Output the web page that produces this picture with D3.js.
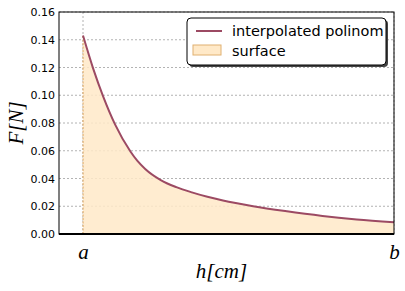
<!DOCTYPE html>
<html lang="en">
<head>
<meta charset="UTF-8">
<title>Interpolated polinom</title>
<script src="https://d3js.org/d3.v7.min.js"></script>
<style>
  body { margin: 0; background: #fff; }
  svg { display: block; }
  .grid line { stroke: #a0a0a0; stroke-dasharray: 2,2; stroke-width: 0.8; }
</style>
</head>
<body>
<div id="chart"></div>
<script>
// h position between a (0) and b (10), force F in newtons
const hValues = [0, 0.33, 0.65, 1.03, 1.53, 1.75, 2.0, 2.5, 3.0, 3.5, 4.0, 4.5, 5.47, 6.5, 7.7, 8.8, 10];
const fValues = [0.143, 0.119, 0.099, 0.079, 0.0593, 0.0527, 0.0469, 0.0389, 0.0338, 0.0300, 0.0268, 0.0241, 0.0200, 0.0165, 0.0130, 0.0105, 0.0084];
const xTicks = [0, 10];
const xTickLabels = ["a", "b"];
const yTicks = [0, 0.02, 0.04, 0.06, 0.08, 0.10, 0.12, 0.14, 0.16];

const mathFont = "'Liberation Serif', 'Times New Roman', serif";

const width = 405, height = 291;
const margin = { top: 12, right: 11, bottom: 57, left: 59 };
const iw = width - margin.left - margin.right;
const ih = height - margin.top - margin.bottom;

const svg = d3.select("#chart").append("svg")
    .attr("width", width)
    .attr("height", height);

const g = svg.append("g").attr("transform", `translate(${margin.left},${margin.top})`);

const x = d3.scaleLinear().domain([-0.772, 10]).range([0, iw]);
const y = d3.scaleLinear().domain([0, 0.16]).range([ih, 0]);

const data = hValues.map((h, i) => ({ h: h, f: fValues[i] }));

// grid
g.append("g").attr("class", "grid")
    .selectAll("line").data(yTicks).join("line")
    .attr("x1", 0).attr("x2", iw)
    .attr("y1", d => y(d)).attr("y2", d => y(d));
g.append("g").attr("class", "grid")
    .selectAll("line").data(xTicks).join("line")
    .attr("x1", d => x(d)).attr("x2", d => x(d))
    .attr("y1", 0).attr("y2", ih);

// filled surface under the curve
const area = d3.area()
    .x(d => x(d.h)).y0(y(0)).y1(d => y(d.f))
    .curve(d3.curveMonotoneX);
g.append("path").datum(data)
    .attr("d", area)
    .attr("fill", "#ffe9c8")
    .attr("fill-opacity", 0.85);
// left edge of the surface
g.append("line")
    .attr("x1", x(hValues[0])).attr("x2", x(hValues[0]))
    .attr("y1", y(0)).attr("y2", y(fValues[0]))
    .attr("stroke", "#d9a15a")
    .attr("stroke-width", 1)
    .attr("stroke-dasharray", "2,1.5");

// curve
const line = d3.line()
    .x(d => x(d.h)).y(d => y(d.f))
    .curve(d3.curveMonotoneX);
g.append("path").datum(data)
    .attr("d", line)
    .attr("fill", "none")
    .attr("stroke", "#9c4a63")
    .attr("stroke-width", 2);

// axes
const yAxis = g.append("g")
    .call(d3.axisLeft(y).tickValues(yTicks).tickFormat(d3.format(".2f")).tickSize(0).tickPadding(4));
yAxis.select(".domain").remove();
yAxis.selectAll(".tick text")
    .style("font-family", "'DejaVu Sans', sans-serif")
    .style("font-size", "11px")
    .attr("fill", "#000");

const xAxis = g.append("g").attr("transform", `translate(0,${ih})`)
    .call(d3.axisBottom(x).tickValues(xTicks).tickFormat((d, i) => xTickLabels[i]).tickSize(0).tickPadding(8));
xAxis.select(".domain").remove();
xAxis.selectAll(".tick text")
    .style("font-family", mathFont)
    .style("font-style", "italic")
    .style("font-size", "21px")
    .attr("fill", "#000")
    .attr("dy", "0.8em");

// frame
g.append("rect")
    .attr("width", iw).attr("height", ih)
    .attr("fill", "none").attr("stroke", "#000").attr("stroke-width", 1);
g.append("line")
    .attr("x1", 0).attr("x2", iw).attr("y1", ih).attr("y2", ih)
    .attr("stroke", "#000").attr("stroke-width", 2);

// axis labels
svg.append("text")
    .attr("x", margin.left + iw / 2 - 5).attr("y", 278)
    .attr("text-anchor", "middle")
    .style("font-family", mathFont).style("font-style", "italic")
    .style("font-size", "21px")
    .text("h[cm]");
svg.append("text")
    .attr("transform", `translate(23,${margin.top + ih / 2}) rotate(-90)`)
    .attr("text-anchor", "middle")
    .style("font-family", mathFont).style("font-style", "italic")
    .style("font-size", "21px")
    .text("F[N]");

// legend
const lg = svg.append("g").attr("transform", "translate(187,18)");
lg.append("rect")
    .attr("x", 2).attr("y", 2).attr("width", 199).attr("height", 47)
    .attr("rx", 4).attr("fill", "#444");
lg.append("rect")
    .attr("width", 199).attr("height", 47)
    .attr("rx", 4).attr("fill", "#fff").attr("stroke", "#000").attr("stroke-width", 1);
lg.append("line")
    .attr("x1", 9).attr("x2", 35).attr("y1", 13).attr("y2", 13)
    .attr("stroke", "#9c4a63").attr("stroke-width", 2);
lg.append("rect")
    .attr("x", 6).attr("y", 27).attr("width", 28).attr("height", 10)
    .attr("fill", "#ffe9c8").attr("stroke", "#e0b070").attr("stroke-width", 1);
lg.append("text")
    .attr("x", 45).attr("y", 18)
    .style("font-family", "'DejaVu Sans', sans-serif").style("font-size", "14.5px")
    .text("interpolated polinom");
lg.append("text")
    .attr("x", 45).attr("y", 38)
    .style("font-family", "'DejaVu Sans', sans-serif").style("font-size", "14.5px")
    .text("surface");
</script>
</body>
</html>
